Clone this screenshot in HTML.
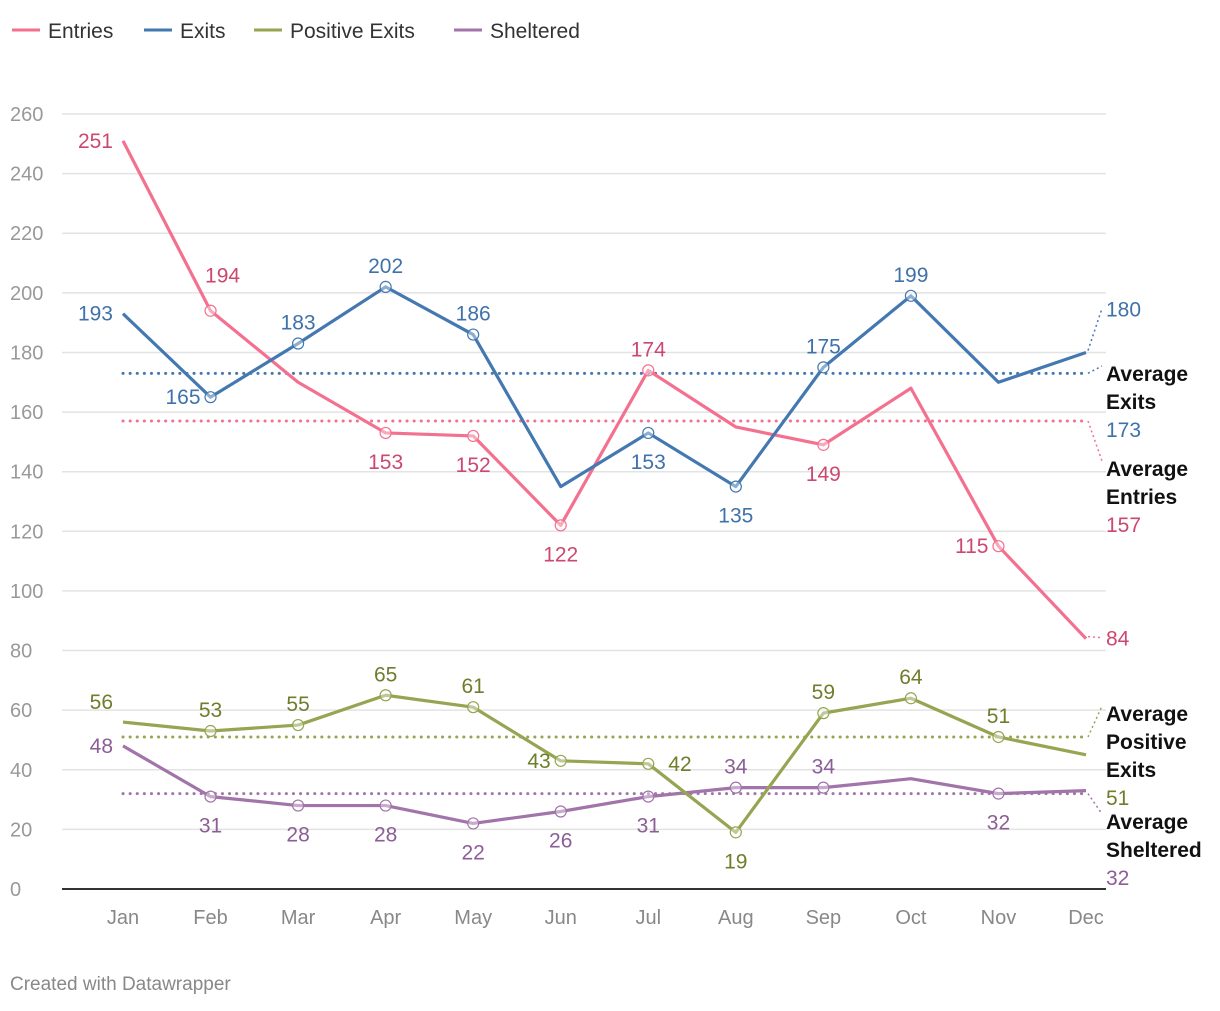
<!DOCTYPE html>
<html><head><meta charset="utf-8"><style>
body{margin:0;background:#fff;font-family:"Liberation Sans",Roboto,sans-serif}
svg text{font-family:"Liberation Sans",sans-serif}
</style></head><body>
<svg id="chart" width="1220" height="1006" xmlns="http://www.w3.org/2000/svg"></svg>
<script>
const months=["Jan","Feb","Mar","Apr","May","Jun","Jul","Aug","Sep","Oct","Nov","Dec"];
const yTicks=[0,20,40,60,80,100,120,140,160,180,200,220,240,260];
const entries=[251,194,170,153,152,122,174,155,149,168,115,84];
const exits=[193,165,183,202,186,135,153,135,175,199,170,180];
const positiveExits=[56,53,55,65,61,43,42,19,59,64,51,45];
const sheltered=[48,31,28,28,22,26,31,34,34,37,32,33];
const averages=[173,157,51,32];
const entriesPlace=["l","ar","","b","b","b","a","","b","","l","r"];
const exitsPlace=["l","l","a","a","a","","b","b","a","a","","r"];
const positivePlace=["al","a","a","a","a","l","r","b","a","a","a",""];
const shelteredPlace=["l","b","b","b","b","b","b","a","a","","b",""];

const svg=document.getElementById('chart');
const NS="http://www.w3.org/2000/svg";
const x=i=>123+i*(1086-123)/11;
const y=v=>889-v*(889-114)/260;
function mk(tag,attrs,parent){const e=document.createElementNS(NS,tag);for(const k in attrs)e.setAttribute(k,attrs[k]);(parent||svg).appendChild(e);return e;}

const leg=[["Entries","#f4708f",12],["Exits","#4378b0",144],["Positive Exits","#95a552",254],["Sheltered","#a174aa",454]];
leg.forEach(l=>{const g=mk('g',{});


mk('line',{x1:l[2],x2:l[2]+28,y1:30,y2:30,stroke:l[1],'stroke-width':3},g);
const t=mk('text',{x:l[2]+36,y:38,'font-size':21,fill:'#333'},g);t.textContent=l[0];});

yTicks.forEach(v=>{
 if(v>0){const gl=mk('line',{x1:62,x2:1106,y1:y(v),y2:y(v),stroke:'#e3e3e3','stroke-width':1.5});
 }
 const t=mk('text',{x:10,y:y(v)+7,'font-size':20,fill:'#999'});t.textContent=v;
 
});
const ax=mk('line',{x1:62,x2:1106,y1:889,y2:889,stroke:'#333','stroke-width':2});

months.forEach((m,i)=>{const t=mk('text',{x:x(i),y:924,'font-size':20,fill:'#888','text-anchor':'middle'});t.textContent=m;
});

const series=[
 {name:"exits",data:exits,place:exitsPlace,c:"#4378b0",lc:"#3f72aa",avg:averages[0],lab:["Average","Exits"],ly:374},
 {name:"entries",data:entries,place:entriesPlace,c:"#f4708f",lc:"#cc4870",avg:averages[1],lab:["Average","Entries"],ly:469},
 {name:"positive-exits",data:positiveExits,place:positivePlace,c:"#95a552",lc:"#6e7e2c",avg:averages[2],lab:["Average","Positive","Exits"],ly:714},
 {name:"sheltered",data:sheltered,place:shelteredPlace,c:"#a174aa",lc:"#8c5e96",avg:averages[3],lab:["Average","Sheltered"],ly:822}
];
series.forEach(s=>{
 const l=mk('line',{x1:x(0),x2:x(11),y1:y(s.avg),y2:y(s.avg),stroke:s.c,'stroke-width':3,'stroke-dasharray':'0.1 7','stroke-linecap':'round'});
 
 const c=mk('line',{x1:x(11)+2,y1:y(s.avg),x2:1102,y2:s.ly-8,stroke:s.c,'stroke-width':1.5,'stroke-dasharray':'2 3'});
 
 const g=mk('g',{});
 s.lab.forEach((w,k)=>{const t=mk('text',{x:1106,y:s.ly+7+k*28,'font-size':21,'font-weight':'bold',fill:'#111'},g);t.textContent=w;});
 const v=mk('text',{x:1106,y:s.ly+7+s.lab.length*28,'font-size':21,fill:s.lc},g);v.textContent=s.avg;
});
series.slice().reverse().forEach(s=>{
 const p=mk('polyline',{points:s.data.map((v,i)=>x(i)+','+y(v)).join(' '),fill:'none',stroke:s.c,'stroke-width':3.2,'stroke-linejoin':'round'});
 
});
series.forEach(s=>{
 s.data.forEach((v,i)=>{
  const pl=s.place[i];if(!pl)return;
  const px=x(i),py=y(v);
  if(i>0&&i<11){const c=mk('circle',{cx:px,cy:py,r:5.5,fill:'#fff','fill-opacity':0.4,stroke:s.c,'stroke-width':1.2});
   }
  let tx=px,ty=py,an='middle';
  if(pl==='a')ty=py-14;else if(pl==='b')ty=py+36;
  else if(pl==='ar'){tx=px+12;ty=py-28;}
  else if(pl==='l'){tx=px-10;ty=py+7;an='end';}
  else if(pl==='r'){tx=px+20;ty=py+7;an='start';}
  else if(pl==='al'){tx=px-10;ty=py-13;an='end';}
  if(i===11&&pl==='r'){ if(s.name==='exits'){ty=y(v)-36;}
   const c=mk('line',{x1:px+2,y1:py-2,x2:tx-4,y2:ty-8,stroke:s.c,'stroke-width':1.5,'stroke-dasharray':'2 3'});
   }
  const t=mk('text',{x:tx,y:ty,'font-size':21,fill:s.lc,'text-anchor':an});t.textContent=v;
  
 });
});
const cr=mk('text',{x:10,y:990,'font-size':19,fill:'#888'});cr.textContent="Created with Datawrapper";

</script>
</body></html>
